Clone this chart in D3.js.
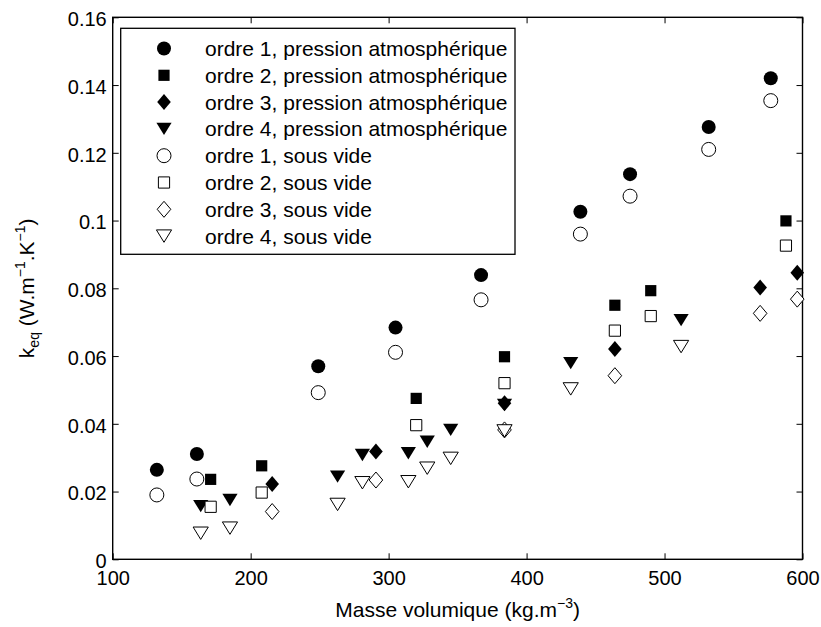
<!DOCTYPE html>
<meta charset="utf-8">
<script src="https://d3js.org/d3.v7.min.js"></script>
<style>
  body { margin: 0; background: #fff; }
  text { font-family: "Liberation Sans", Arial, sans-serif; fill: #000; }
</style>
<div id="chart"></div>
<script>

// tick values
var xTicks = [100, 200, 300, 400, 500, 600];
var yTicks = [0, 0.02, 0.04, 0.06, 0.08, 0.1, 0.12, 0.14, 0.16];

// ordre 1
var ordre1X    = [132, 161, 249, 305, 367, 439, 475, 532, 577];
var ordre1Atm  = [0.0264, 0.0311, 0.0570, 0.0684, 0.0839, 0.1026, 0.1137, 0.1276, 0.1420];
var ordre1Vide = [0.0190, 0.0237, 0.0492, 0.0611, 0.0766, 0.0960, 0.1072, 0.1210, 0.1354];

// ordre 2
var ordre2X    = [171, 208, 320, 384, 464, 490, 588];
var ordre2Atm  = [0.0236, 0.0276, 0.0475, 0.0598, 0.0750, 0.0793, 0.0999];
var ordre2Vide = [0.0155, 0.0197, 0.0396, 0.0520, 0.0675, 0.0718, 0.0926];

// ordre 3
var ordre3X    = [215.6, 290.8, 384, 464, 569.3, 596.2];
var ordre3Atm  = [0.0222, 0.0318, 0.0461, 0.0621, 0.0802, 0.0846];
var ordre3Vide = [0.0141, 0.0234, 0.0382, 0.0542, 0.0726, 0.0768];

// ordre 4
var ordre4X    = [163.8, 185, 263, 281, 314.3, 328, 345, 384, 432, 512];
var ordre4Atm  = [0.0157, 0.0175, 0.0244, 0.0308, 0.0313, 0.0347, 0.0382, 0.0456, 0.0579, 0.0706];
var ordre4Vide = [0.0077, 0.0092, 0.0162, 0.0226, 0.0229, 0.0269, 0.0298, 0.0379, 0.0503, 0.0628];

var series = [
  {label: "ordre 1, pression atmosphérique", shape: "circle",   filled: true,  x: ordre1X, y: ordre1Atm},
  {label: "ordre 2, pression atmosphérique", shape: "square",   filled: true,  x: ordre2X, y: ordre2Atm},
  {label: "ordre 3, pression atmosphérique", shape: "diamond",  filled: true,  x: ordre3X, y: ordre3Atm},
  {label: "ordre 4, pression atmosphérique", shape: "triangle", filled: true,  x: ordre4X, y: ordre4Atm},
  {label: "ordre 1, sous vide",              shape: "circle",   filled: false, x: ordre1X, y: ordre1Vide},
  {label: "ordre 2, sous vide",              shape: "square",   filled: false, x: ordre2X, y: ordre2Vide},
  {label: "ordre 3, sous vide",              shape: "diamond",  filled: false, x: ordre3X, y: ordre3Vide},
  {label: "ordre 4, sous vide",              shape: "triangle", filled: false, x: ordre4X, y: ordre4Vide}
];

var W = 821, H = 627;
var plotL = 112.7, plotR = 802.5, plotT = 17.3, plotB = 559.3;

var svg = d3.select("#chart").append("svg")
    .attr("width", W)
    .attr("height", H);

var x = d3.scaleLinear().domain([100, 600]).range([plotL, plotR]);
var y = d3.scaleLinear().domain([0, 0.16]).range([plotB, plotT]);

// marker paths, MATLAB-like shapes
function marker(shape) {
  if (shape == "circle") {
    return "M7,0A7,7 0 1,1 -7,0A7,7 0 1,1 7,0Z";
  } else if (shape == "square") {
    return "M-5.6,-5.6H5.6V5.6H-5.6Z";
  } else if (shape == "diamond") {
    return "M0,-8L6.8,0L0,8L-6.8,0Z";
  } else {
    return "M-7.6,-6.2H7.6L0,6.2Z";
  }
}

var fmt = function(d) { return d === 0 ? "0" : String(+d.toFixed(2)); };

// axes, ticks pointing inward
var gx = svg.append("g")
  .attr("transform", "translate(0," + plotB + ")")
  .call(d3.axisBottom(x).tickValues(xTicks).tickSize(-6).tickSizeOuter(0).tickPadding(12));
var gy = svg.append("g")
  .attr("transform", "translate(" + plotL + ",0)")
  .call(d3.axisLeft(y).tickValues(yTicks).tickFormat(fmt).tickSize(-6).tickSizeOuter(0).tickPadding(6));
svg.append("g")
  .attr("transform", "translate(0," + plotT + ")")
  .call(d3.axisTop(x).tickValues(xTicks).tickSize(-6).tickSizeOuter(0).tickFormat(""));
svg.append("g")
  .attr("transform", "translate(" + plotR + ",0)")
  .call(d3.axisRight(y).tickValues(yTicks).tickSize(-6).tickSizeOuter(0).tickFormat(""));

svg.selectAll(".domain").remove();
svg.selectAll(".tick line").attr("stroke", "#000").attr("stroke-width", 1);
svg.selectAll(".tick text")
  .style("font-family", "'Liberation Sans', Arial, sans-serif")
  .style("font-size", "20px")
  .attr("fill", "#000");
gy.selectAll(".tick text").attr("dy", "0.42em");

svg.append("rect")
  .attr("x", plotL).attr("y", plotT)
  .attr("width", plotR - plotL).attr("height", plotB - plotT)
  .attr("fill", "none").attr("stroke", "#000").attr("stroke-width", 1.4);

// points
series.forEach(function(s) {
  svg.append("g").selectAll("path")
    .data(s.x.map(function(v, i) { return [v, s.y[i]]; }))
    .enter()
    .append("path")
      .attr("d", marker(s.shape))
      .attr("transform", function(d) { return "translate(" + x(d[0]) + "," + y(d[1]) + ")"; })
      .attr("fill", s.filled ? "#000" : "#fff")
      .attr("stroke", "#000")
      .attr("stroke-width", s.filled ? 0 : 1);
});

// legend
var lg = svg.append("g");
lg.append("rect")
  .attr("x", 120.7).attr("y", 28.3)
  .attr("width", 394.3).attr("height", 226)
  .attr("fill", "#fff").attr("stroke", "#000").attr("stroke-width", 1.3);

var rows = lg.selectAll(".row")
  .data(series)
  .enter().append("g")
    .attr("class", "row")
    .attr("transform", function(d, i) { return "translate(0," + (48.5 + i * 26.8) + ")"; });
rows.append("path")
  .attr("d", function(d) { return marker(d.shape); })
  .attr("transform", "translate(164,0)")
  .attr("fill", function(d) { return d.filled ? "#000" : "#fff"; })
  .attr("stroke", "#000")
  .attr("stroke-width", function(d) { return d.filled ? 0 : 1; });
rows.append("text")
  .attr("x", 205)
  .attr("dy", "0.36em")
  .style("font-size", "21px")
  .text(function(d) { return d.label; });

// axis labels
var xl = svg.append("text")
  .attr("x", (plotL + plotR) / 2)
  .attr("y", 617)
  .attr("text-anchor", "middle")
  .style("font-size", "21px");
xl.append("tspan").text("Masse volumique (kg.m");
xl.append("tspan").attr("dy", -9).style("font-size", "14px").text("\u22123");
xl.append("tspan").attr("dy", 9).text(")");

var yl = svg.append("text")
  .attr("transform", "translate(34," + ((plotT + plotB) / 2) + ") rotate(-90)")
  .attr("text-anchor", "middle")
  .style("font-size", "21px");
yl.append("tspan").text("k");
yl.append("tspan").attr("dy", 5).style("font-size", "14px").text("eq");
yl.append("tspan").attr("dy", -5).text(" (W.m");
yl.append("tspan").attr("dy", -9).style("font-size", "14px").text("\u22121");
yl.append("tspan").attr("dy", 9).text(".K");
yl.append("tspan").attr("dy", -9).style("font-size", "14px").text("\u22121");
yl.append("tspan").attr("dy", 9).text(")");

</script>
